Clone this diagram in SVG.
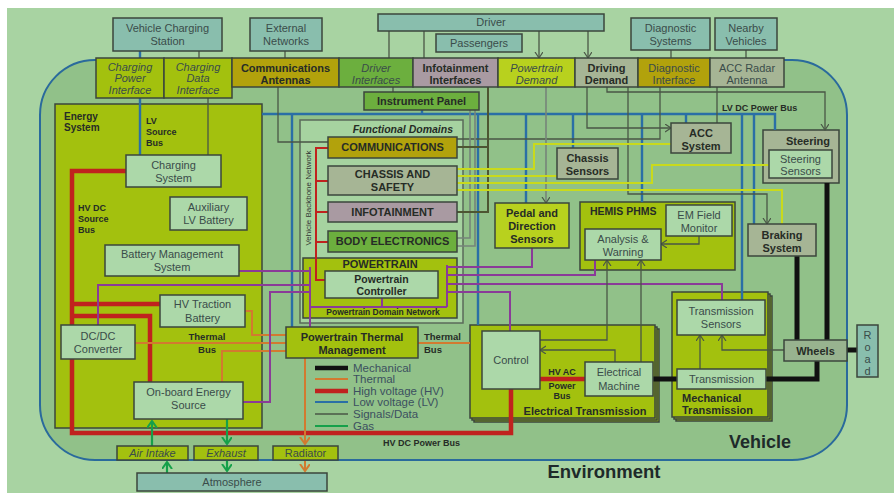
<svg xmlns="http://www.w3.org/2000/svg" width="894" height="493" viewBox="0 0 894 493">
<defs>
<style>
 .t{font-family:"Liberation Sans",Arial,sans-serif;font-size:11px;fill:#3a4c4a;text-anchor:middle}
 .b{font-weight:bold;fill:#262c26}
 .i{font-style:italic}
 .s9{font-size:9px}
 .bx{stroke:#3b463c;stroke-width:1.5}
 .ext{fill:#89bead}
 .yg{fill:#a3c10e}
 .pale{fill:#acd8a9}
 .gold{fill:#b2a20c}
 .grn{fill:#6caf3e}
 .mauve{fill:#a99aa2}
 .gry{fill:#a6b595}
 .lime{fill:#b8d11e}
 .whl{fill:#98b38f}
 .sig{fill:none;stroke:#4a5646;stroke-width:1.3}
 .lgt{fill:none;stroke:#76847a;stroke-width:1.6}
 .olv{fill:none;stroke:#4d5632;stroke-width:2}
 .lv{fill:none;stroke:#2a6fa6;stroke-width:2.4}
 .hv{fill:none;stroke:#c0221e;stroke-width:4.5}
 .hvn{fill:none;stroke:#c0221e;stroke-width:2}
 .th{fill:none;stroke:#d27a30;stroke-width:2}
 .pp{fill:none;stroke:#8a3b98;stroke-width:2}
 .yl{fill:none;stroke:#c9da1c;stroke-width:2}
 .mech{fill:none;stroke:#111;stroke-width:5}
 .gas{fill:none;stroke:#16a04a;stroke-width:2.2}
 .lg{font-family:"Liberation Sans",Arial,sans-serif;font-size:11.5px;fill:#3c5060}
</style>
<marker id="arr" markerWidth="10" markerHeight="10" refX="6" refY="4" orient="auto" markerUnits="userSpaceOnUse"><path d="M0,0 L6,4 L0,8" fill="none" stroke="#4a5646" stroke-width="1.2"/></marker>
<marker id="arrO" markerWidth="12" markerHeight="12" refX="7" refY="5" orient="auto" markerUnits="userSpaceOnUse"><path d="M0,0 L7,5 L0,10" fill="none" stroke="#d27a30" stroke-width="2"/></marker>
<marker id="arrG" markerWidth="12" markerHeight="12" refX="7" refY="5" orient="auto" markerUnits="userSpaceOnUse"><path d="M0,0 L7,5 L0,10" fill="none" stroke="#16a04a" stroke-width="2"/></marker>
</defs>

<!-- page and environment -->
<rect x="0" y="0" width="894" height="493" fill="#ffffff"/>
<rect x="7" y="8" width="887" height="485" fill="#a8d3a2"/>
<rect x="40" y="60" width="807" height="400" rx="55" fill="#91c189" stroke="#2a6a9c" stroke-width="2"/>

<!-- containers -->
<g id="energy-system"><rect class="bx yg" x="55" y="104" width="207" height="324"/>
 <text class="t b" x="64" y="120" style="text-anchor:start;font-size:10px">Energy</text>
 <text class="t b" x="64" y="131" style="text-anchor:start;font-size:10px">System</text></g>
<g id="functional-domains"><rect x="300" y="120" width="163" height="203" fill="#a6d3a0" stroke="#5a6a5a" stroke-width="1.5"/>
 <text class="t b i" x="453" y="133" style="text-anchor:end;font-size:10.5px">Functional Domains</text>
 <text class="t" transform="translate(311,198) rotate(-90)" style="font-size:8px;fill:#333">Vehicle Backbone Network</text></g>
<g id="powertrain"><rect class="bx yg" x="303" y="258" width="154" height="60"/>
 <text class="t b" x="380" y="268">POWERTRAIN</text>
 <text class="t b" x="383" y="315" style="font-size:8.5px">Powertrain Domain Network</text></g>
<g id="hemis-phms"><rect class="bx yg" x="580" y="202" width="155" height="68"/>
 <text class="t b" x="590" y="215" style="text-anchor:start;font-size:10.5px">HEMIS PHMS</text></g>
<g id="steering"><rect class="bx gry" x="763" y="130" width="76" height="53"/>
 <text class="t b" x="808" y="145">Steering</text></g>
<g id="electrical-transmission">
 <rect class="bx yg" x="474" y="329" width="185" height="93"/>
 <rect class="bx yg" x="472" y="327" width="185" height="93"/>
 <rect class="bx yg" x="470" y="325" width="185" height="93"/>
 <text class="t b" x="585" y="415">Electrical Transmission</text></g>
<g id="mechanical-transmission">
 <rect class="bx yg" x="676" y="296" width="96" height="125"/>
 <rect class="bx yg" x="674" y="294" width="96" height="125"/>
 <rect class="bx yg" x="672" y="292" width="96" height="125"/>
 <text class="t b" x="682" y="402" style="text-anchor:start">Mechanical</text>
 <text class="t b" x="682" y="414" style="text-anchor:start">Transmission</text></g>

<!-- connectors -->
<g id="connectors">
 <!-- low voltage DC bus -->
 <path class="lv" d="M140,51V58M140,98V155"/>
 <path class="lv" d="M262,114H775V130"/>
 <path class="lv" d="M292,114V327M422,110V114M478,114V325M526,114V203M573,114V148M642,114V202M686,114V123M742,114V300M754,114V224"/>
 <!-- high voltage -->
 <path class="hv" d="M126,171H72V433H511V389"/>
 <path class="hv" d="M72,304H160M72,316H150V382"/>
 <path class="hv" d="M540,379H585"/>
 <path class="hvn" d="M328,148H316V280H325M316,181H328M316,212H328M316,242H328"/>
 <!-- thermal -->
 <path class="th" d="M245,311H252V335H286M135,343H286M222,382V351H286M418,343H470"/>
 <path class="th" d="M305,358V444" marker-end="url(#arrO)"/>
 <path class="th" d="M305,461V471" marker-end="url(#arrO)"/>
 <!-- powertrain domain network -->
 <path class="pp" d="M239,271H310M98,325V285H310M243,402H270V292H310M310,267V327M310,307H447M382,298V307M447,265V307"/>
 <path class="pp" d="M447,267H532V248M447,275H595V260M447,284H722V300M447,292H510V331"/>
 <!-- signals and data -->
 <path class="sig" d="M199,51V58M208,98V155M285,51V58M278,87V142H328M660,87V139H457M389,31V58M424,31V58M671,50V58M746,50V58M393,87V92M717,87V123"/>
 <path class="sig" d="M539,31V58" marker-end="url(#arr)"/>
 <path class="sig" d="M588,31V58" marker-end="url(#arr)"/>
 <path class="sig" d="M587,87V128H671" marker-end="url(#arr)"/>
 <path class="sig" d="M607,87V92H825V130" marker-end="url(#arr)"/>
 <path class="sig" d="M628,87V194H767V224" marker-end="url(#arr)"/>
 <path class="sig" d="M699,236V244H661" marker-end="url(#arr)"/>
 <path class="sig" d="M700,369V335" marker-end="url(#arr)"/>
 <path class="sig" d="M784,350H722V335" marker-end="url(#arr)"/>
 <path class="sig" d="M641,362V260" marker-end="url(#arr)"/>
 <path class="sig" d="M540,340H607V260" marker-end="url(#arr)"/>
 <path class="sig" d="M615,362V350H540" marker-end="url(#arr)"/>
 <path class="lgt" d="M546,87V203" marker-end="url(#arr)"/>
 <path class="lgt" d="M470,110V238H457M475,110V246H457"/>
 <path class="olv" d="M488,87V212H457M457,147H488"/>
 <!-- chassis and safety links -->
 <path class="yl" d="M457,169H534V144H671M457,176H557M457,183H652V165H769M457,190H782V224"/>
 <!-- mechanical -->
 <path class="mech" d="M827,183V340M797,256V340M847,350H857M653,379H677M766,379H817V361"/>
 <!-- gas -->
 <path class="gas" d="M152,446V421" marker-end="url(#arrG)"/>
 <path class="gas" d="M227,419V444" marker-end="url(#arrG)"/>
 <path class="gas" d="M167,473V462" marker-end="url(#arrG)"/>
 <path class="gas" d="M227,460V471" marker-end="url(#arrG)"/>
</g>

<!-- external actors -->
<g id="vehicle-charging-station"><rect class="bx ext" x="113" y="18" width="109" height="33"/><text class="t" x="167.5" y="32">Vehicle Charging</text><text class="t" x="167.5" y="45">Station</text></g>
<g id="external-networks"><rect class="bx ext" x="250" y="18" width="72" height="33"/><text class="t" x="286" y="32">External</text><text class="t" x="286" y="45">Networks</text></g>
<g id="driver"><rect class="bx ext" x="378" y="14" width="226" height="17"/><text class="t" x="491" y="26">Driver</text></g>
<g id="passengers"><rect class="bx ext" x="436" y="34" width="86" height="18"/><text class="t" x="479" y="47">Passengers</text></g>
<g id="diagnostic-systems"><rect class="bx ext" x="631" y="18" width="79" height="32"/><text class="t" x="670.5" y="32">Diagnostic</text><text class="t" x="670.5" y="45">Systems</text></g>
<g id="nearby-vehicles"><rect class="bx ext" x="715" y="18" width="62" height="32"/><text class="t" x="746" y="32">Nearby</text><text class="t" x="746" y="45">Vehicles</text></g>

<!-- vehicle interfaces -->
<g id="charging-power-interface"><rect class="bx yg" x="96" y="58" width="68" height="40"/><text class="t i" x="130" y="71">Charging</text><text class="t i" x="130" y="82">Power</text><text class="t i" x="130" y="94">Interface</text></g>
<g id="charging-data-interface"><rect class="bx yg" x="164" y="58" width="68" height="40"/><text class="t i" x="198" y="71">Charging</text><text class="t i" x="198" y="82">Data</text><text class="t i" x="198" y="94">Interface</text></g>
<g id="communications-antennas"><rect class="bx gold" x="232" y="58" width="107" height="29"/><text class="t b" x="285.5" y="72">Communications</text><text class="t b" x="285.5" y="84">Antennas</text></g>
<g id="driver-interfaces"><rect class="bx grn" x="339" y="58" width="74" height="29"/><text class="t i" x="376" y="72">Driver</text><text class="t i" x="376" y="84">Interfaces</text></g>
<g id="infotainment-interfaces"><rect class="bx mauve" x="413" y="58" width="85" height="29"/><text class="t b" x="455.5" y="72">Infotainment</text><text class="t b" x="455.5" y="84">Interfaces</text></g>
<g id="powertrain-demand"><rect class="bx lime" x="498" y="58" width="77" height="29"/><text class="t i" x="536.5" y="72">Powertrain</text><text class="t i" x="536.5" y="84">Demand</text></g>
<g id="driving-demand"><rect class="bx gry" x="575" y="58" width="63" height="29"/><text class="t b" x="606.5" y="72">Driving</text><text class="t b" x="606.5" y="84">Demand</text></g>
<g id="diagnostic-interface"><rect class="bx gold" x="638" y="58" width="72" height="29"/><text class="t" x="674" y="72">Diagnostic</text><text class="t" x="674" y="84">Interface</text></g>
<g id="acc-radar-antenna"><rect class="bx gry" x="710" y="58" width="74" height="29"/><text class="t" x="747" y="72">ACC Radar</text><text class="t" x="747" y="84">Antenna</text></g>
<g id="instrument-panel"><rect class="bx grn" x="364" y="92" width="115" height="18"/><text class="t b" x="421.5" y="105">Instrument Panel</text></g>

<!-- energy system -->
<g id="bus-labels-energy">
 <text class="t b s9" x="146" y="124" style="text-anchor:start">LV</text>
 <text class="t b s9" x="146" y="135" style="text-anchor:start">Source</text>
 <text class="t b s9" x="146" y="146" style="text-anchor:start">Bus</text>
 <text class="t b s9" x="78" y="211" style="text-anchor:start">HV DC</text>
 <text class="t b s9" x="78" y="222" style="text-anchor:start">Source</text>
 <text class="t b s9" x="78" y="233" style="text-anchor:start">Bus</text>
 <text class="t b" x="207" y="340" style="font-size:9.5px">Thermal</text>
 <text class="t b" x="207" y="353" style="font-size:9.5px">Bus</text>
 <text class="t b" x="424" y="340" style="text-anchor:start;font-size:9.5px">Thermal</text>
 <text class="t b" x="424" y="353" style="text-anchor:start;font-size:9.5px">Bus</text>
</g>
<g id="charging-system"><rect class="bx pale" x="126" y="155" width="95" height="32"/><text class="t" x="173.5" y="169">Charging</text><text class="t" x="173.5" y="182">System</text></g>
<g id="auxiliary-lv-battery"><rect class="bx pale" x="170" y="197" width="77" height="33"/><text class="t" x="208.5" y="211">Auxiliary</text><text class="t" x="208.5" y="224">LV Battery</text></g>
<g id="battery-management-system"><rect class="bx pale" x="105" y="245" width="134" height="31"/><text class="t" x="172" y="258">Battery Management</text><text class="t" x="172" y="271">System</text></g>
<g id="hv-traction-battery"><rect class="bx pale" x="160" y="295" width="85" height="32"/><text class="t" x="202.5" y="308">HV Traction</text><text class="t" x="202.5" y="322">Battery</text></g>
<g id="dc-dc-converter"><rect class="bx pale" x="61" y="325" width="74" height="34"/><text class="t" x="98" y="340">DC/DC</text><text class="t" x="98" y="353">Converter</text></g>
<g id="on-board-energy-source"><rect class="bx pale" x="134" y="382" width="109" height="37"/><text class="t" x="188.5" y="396">On-board Energy</text><text class="t" x="188.5" y="409">Source</text></g>

<!-- functional domains -->
<g id="communications"><rect class="bx gold" x="328" y="137" width="129" height="21"/><text class="t b" x="392.5" y="151">COMMUNICATIONS</text></g>
<g id="chassis-and-safety"><rect class="bx gry" x="328" y="166" width="129" height="29"/><text class="t b" x="392.5" y="178">CHASSIS AND</text><text class="t b" x="392.5" y="191">SAFETY</text></g>
<g id="infotainment"><rect class="bx mauve" x="328" y="202" width="129" height="20"/><text class="t b" x="392.5" y="216">INFOTAINMENT</text></g>
<g id="body-electronics"><rect class="bx grn" x="328" y="231" width="129" height="21"/><text class="t b" x="392.5" y="245">BODY ELECTRONICS</text></g>
<g id="powertrain-controller"><rect class="bx pale" x="325" y="271" width="113" height="27"/><text class="t b" x="381.5" y="283" style="font-size:10.5px">Powertrain</text><text class="t b" x="381.5" y="295" style="font-size:10.5px">Controller</text></g>
<g id="powertrain-thermal-management"><rect class="bx yg" x="286" y="327" width="132" height="31"/><text class="t b" x="352" y="341">Powertrain Thermal</text><text class="t b" x="352" y="354">Management</text></g>

<!-- chassis side -->
<g id="pedal-and-direction-sensors"><rect class="bx lime" x="495" y="203" width="74" height="45"/><text class="t b" x="532" y="217">Pedal and</text><text class="t b" x="532" y="230">Direction</text><text class="t b" x="532" y="243">Sensors</text></g>
<g id="chassis-sensors"><rect class="bx gry" x="557" y="148" width="61" height="31"/><text class="t b" x="587.5" y="162">Chassis</text><text class="t b" x="587.5" y="175">Sensors</text></g>
<g id="acc-system"><rect class="bx gry" x="671" y="123" width="60" height="30"/><text class="t b" x="701" y="137">ACC</text><text class="t b" x="701" y="150">System</text></g>
<g id="em-field-monitor"><rect class="bx pale" x="666" y="205" width="66" height="31"/><text class="t" x="699" y="219">EM Field</text><text class="t" x="699" y="232">Monitor</text></g>
<g id="analysis-and-warning"><rect class="bx pale" x="585" y="229" width="76" height="31"/><text class="t" x="623" y="243">Analysis &amp;</text><text class="t" x="623" y="256">Warning</text></g>
<g id="steering-sensors"><rect class="bx pale" x="769" y="150" width="63" height="28"/><text class="t" x="800.5" y="163">Steering</text><text class="t" x="800.5" y="175">Sensors</text></g>
<g id="braking-system"><rect class="bx gry" x="748" y="224" width="68" height="32"/><text class="t b" x="782" y="239">Braking</text><text class="t b" x="782" y="252">System</text></g>

<!-- drivetrain -->
<g id="control"><rect class="bx pale" x="482" y="331" width="58" height="58"/><text class="t" x="511" y="364">Control</text></g>
<g id="hv-ac-power-bus-label">
 <text class="t b s9" x="562" y="375">HV AC</text>
 <text class="t b s9" x="562" y="389">Power</text>
 <text class="t b s9" x="562" y="399">Bus</text></g>
<g id="electrical-machine"><rect class="bx pale" x="585" y="362" width="68" height="34"/><text class="t" x="619" y="376">Electrical</text><text class="t" x="619" y="390">Machine</text></g>
<g id="transmission-sensors"><rect class="bx pale" x="677" y="300" width="88" height="35"/><text class="t" x="721" y="315">Transmission</text><text class="t" x="721" y="328">Sensors</text></g>
<g id="transmission"><rect class="bx pale" x="677" y="369" width="89" height="20"/><text class="t" x="721.5" y="383">Transmission</text></g>
<g id="wheels"><rect class="bx whl" x="784" y="340" width="63" height="21"/><text class="t b" x="815.5" y="355">Wheels</text></g>
<g id="road"><rect class="bx ext" x="857" y="325" width="21" height="52"/>
 <text class="t" x="867.5" y="339">R</text><text class="t" x="867.5" y="351">o</text><text class="t" x="867.5" y="363">a</text><text class="t" x="867.5" y="375">d</text></g>

<!-- atmosphere side -->
<g id="air-intake"><rect class="bx yg" x="117" y="446" width="71" height="14"/><text class="t i" x="152.5" y="457">Air Intake</text></g>
<g id="exhaust"><rect class="bx yg" x="194" y="446" width="64" height="14"/><text class="t i" x="226" y="457">Exhaust</text></g>
<g id="radiator"><rect class="bx yg" x="273" y="446" width="65" height="14"/><text class="t" x="305.5" y="457">Radiator</text></g>
<g id="atmosphere"><rect class="bx ext" x="137" y="473" width="190" height="18"/><text class="t" x="232" y="486">Atmosphere</text></g>

<!-- bus labels and titles -->
<text class="t b s9" x="722" y="111" style="text-anchor:start">LV DC Power Bus</text>
<text class="t b s9" x="383" y="446" style="text-anchor:start">HV DC Power Bus</text>
<text class="t b" x="760" y="448" style="font-size:18px;fill:#1e2a2a">Vehicle</text>
<text class="t b" x="604" y="478" style="font-size:18.5px;fill:#1e2a2a">Environment</text>

<!-- legend -->
<g id="legend">
 <path d="M315,368H348" stroke="#111" stroke-width="4.5"/>
 <path d="M315,379H348" stroke="#d27a30" stroke-width="2"/>
 <path d="M315,391H348" stroke="#c0221e" stroke-width="4.5"/>
 <path d="M315,402H348" stroke="#2a6fa6" stroke-width="2.2"/>
 <path d="M315,414H348" stroke="#4a5646" stroke-width="1.5"/>
 <path d="M315,426H348" stroke="#16a04a" stroke-width="2"/>
 <text class="lg" x="353" y="372">Mechanical</text>
 <text class="lg" x="353" y="383">Thermal</text>
 <text class="lg" x="353" y="395">High voltage (HV)</text>
 <text class="lg" x="353" y="406">Low voltage (LV)</text>
 <text class="lg" x="353" y="418">Signals/Data</text>
 <text class="lg" x="353" y="430">Gas</text>
</g>
</svg>
